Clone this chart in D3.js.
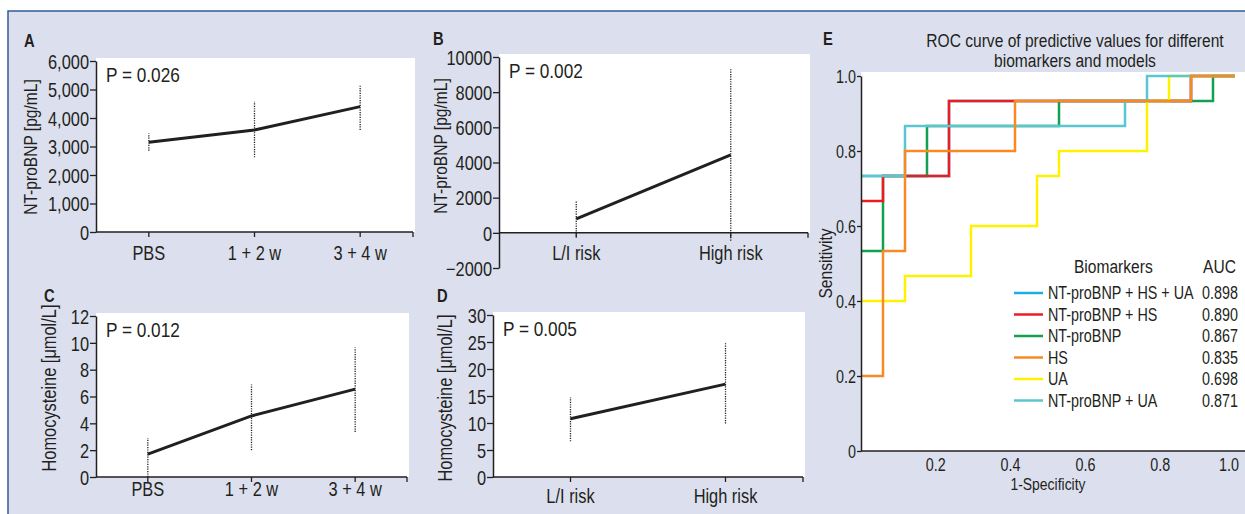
<!DOCTYPE html>
<html>
<head>
<meta charset="utf-8">
<script src="https://cdn.jsdelivr.net/npm/d3@7"></script>
<style>
    body { margin: 0; background: #fff; }
    svg { display: block; font-family: 'Liberation Sans', Arial, sans-serif; }
    text { fill: #231f20; }
</style>
</head>
<body>
<svg id="chart" width="1245" height="514"></svg>
<script>
// categories
var timeCats = ['PBS', '1 + 2 w', '3 + 4 w'],
    riskCats = ['L/I risk', 'High risk'];

// A: NT-proBNP by treatment time
var bnpTimeMean = [3150, 3580, 4400],
    bnpTimeLow = [2850, 2620, 3580],
    bnpTimeHigh = [3460, 4570, 5130],
    bnpTimeTicks = [0, 1000, 2000, 3000, 4000, 5000, 6000];

// B: NT-proBNP by risk
var bnpRiskMean = [800, 4430],
    bnpRiskLow = [-200, -450],
    bnpRiskHigh = [1780, 9300],
    bnpRiskTicks = [-2000, 0, 2000, 4000, 6000, 8000, 10000];

// C: homocysteine by treatment time
var hcyTimeMean = [1.7, 4.55, 6.55],
    hcyTimeLow = [0, 2.0, 3.35],
    hcyTimeHigh = [2.9, 6.9, 9.65],
    hcyTimeTicks = [0, 2, 4, 6, 8, 10, 12];

// D: homocysteine by risk
var hcyRiskMean = [10.8, 17.2],
    hcyRiskLow = [6.6, 9.9],
    hcyRiskHigh = [14.7, 24.8],
    hcyRiskTicks = [0, 5, 10, 15, 20, 25, 30];

// E: ROC curves, corner points as [false positives, true positives] (17 negatives, 15 positives)
var rocNeg = 17,
    rocPos = 15,
    rocNames = ['NT-proBNP + HS + UA', 'NT-proBNP + HS', 'NT-proBNP', 'HS', 'UA', 'NT-proBNP + UA'],
    rocAuc = ['0.898', '0.890', '0.867', '0.835', '0.698', '0.871'],
    rocPoints = [
        [[0, 11], [4, 14], [15, 15], [17, 15]],
        [[0, 10], [1, 11], [4, 14], [15, 15], [17, 15]],
        [[0, 8], [1, 11], [3, 13], [9, 14], [16, 15], [17, 15]],
        [[0, 3], [1, 8], [2, 12], [7, 14], [15, 15], [17, 15]],
        [[0, 6], [2, 7], [5, 9], [8, 11], [9, 12], [13, 14], [14, 15], [17, 15]],
        [[0, 11], [2, 13], [12, 14], [13, 15], [17, 15]]
    ],
    rocTicks = [0, 0.2, 0.4, 0.6, 0.8, 1.0];

var rocColors = ['#1cace6', '#ec1c24', '#12a150', '#f68a27', '#fff200', '#5cc6d0'],
    rocDrawOrder = [0, 2, 1, 4, 5, 3],
    ink = '#231f20';

var svg = d3.select('#chart');

// frame
svg.append('rect')
    .attr('x', 8).attr('y', 11)
    .attr('width', 1245).attr('height', 514)
    .attr('fill', '#dce0ee')
    .attr('stroke', '#2f5c99')
    .attr('stroke-width', 1.5);

var drawPanel = function drawPanel(opt) {
    var x = d3.scaleBand().domain(opt.cats).range(opt.xr),
        y = d3.scaleLinear().domain(opt.yd).range(opt.yr),
        g = svg.append('g'),
        top = y(opt.yd[1]),
        base = y(0),
        mid = function (d) { return x(d) + x.bandwidth() / 2; };

    g.append('rect')
        .attr('x', opt.xr[0])
        .attr('y', top - 3)
        .attr('width', opt.xr[1] - opt.xr[0] + 2)
        .attr('height', base - top + 3)
        .attr('fill', '#fff');

    var ay = g.append('g')
        .attr('transform', 'translate(' + opt.xr[0] + ',0)')
        .call(d3.axisLeft(y)
            .tickValues(opt.ticks)
            .tickFormat(opt.fmt)
            .tickSize(6)
            .tickSizeOuter(0)
            .tickPadding(1));
    ay.select('.domain').attr('stroke', ink).attr('stroke-width', 1.5);
    ay.selectAll('.tick line').attr('stroke', ink).attr('stroke-width', 1.3);
    ay.selectAll('.tick text')
        .attr('font-size', opt.tickSize)
        .attr('fill', ink)
        .attr('dy', '0.36em');
    ay.attr('font-family', null).attr('font-size', null);

    // x axis
    g.append('line')
        .attr('x1', opt.xr[0]).attr('x2', opt.xr[1])
        .attr('y1', base).attr('y2', base)
        .attr('stroke', ink).attr('stroke-width', 1.5);
    g.selectAll('.xtick')
        .data(opt.cats.map(mid).concat([opt.xr[1]]))
        .enter().append('line')
        .attr('x1', function (d) { return d; })
        .attr('x2', function (d) { return d; })
        .attr('y1', base).attr('y2', base + 5)
        .attr('stroke', ink).attr('stroke-width', 1.3);
    g.selectAll('.xlab')
        .data(opt.cats)
        .enter().append('text')
        .attr('x', mid)
        .attr('y', base + opt.labGap)
        .attr('text-anchor', 'middle')
        .attr('font-size', opt.catSize)
        .text(function (d) { return d; });

    // error bars
    g.selectAll('.err')
        .data(opt.cats)
        .enter().append('line')
        .attr('x1', mid).attr('x2', mid)
        .attr('y1', function (d, i) { return y(opt.low[i]); })
        .attr('y2', function (d, i) { return y(opt.high[i]); })
        .attr('stroke', ink)
        .attr('stroke-width', 1.3)
        .attr('stroke-dasharray', '1.2,1.2');

    g.append('path')
        .datum(opt.mean)
        .attr('d', d3.line()
            .x(function (d, i) { return mid(opt.cats[i]); })
            .y(function (d) { return y(d); }))
        .attr('fill', 'none')
        .attr('stroke', ink)
        .attr('stroke-width', 3);

    g.append('text')
        .attr('x', opt.xr[0] + 10)
        .attr('y', top + 21)
        .attr('font-size', 21)
        .text(opt.p);

    g.append('text')
        .attr('x', opt.letter[0]).attr('y', opt.letter[1])
        .attr('font-size', 18)
        .attr('font-weight', 'bold')
        .text(opt.name);

    g.append('text')
        .attr('transform', 'translate(' + opt.title[0] + ',' + opt.title[1] + ') rotate(-90)')
        .attr('text-anchor', 'middle')
        .attr('font-size', opt.titleSize)
        .text(opt.ytitle);
};

var fmtComma = d3.format(','),
    fmtPlain = function (d) { return d < 0 ? '\u2212' + Math.abs(d) : String(d); };

drawPanel({
    name: 'A', cats: timeCats, mean: bnpTimeMean, low: bnpTimeLow, high: bnpTimeHigh,
    xr: [96, 413], yd: [0, 6000], yr: [232, 61], ticks: bnpTimeTicks, fmt: fmtComma,
    tickSize: 20, catSize: 20, labGap: 28, p: 'P = 0.026',
    letter: [24, 47], title: [37, 147], titleSize: 19, ytitle: 'NT-proBNP [pg/mL]'
});

drawPanel({
    name: 'B', cats: riskCats, mean: bnpRiskMean, low: bnpRiskLow, high: bnpRiskHigh,
    xr: [499, 808], yd: [-2000, 10000], yr: [268, 57], ticks: bnpRiskTicks, fmt: fmtPlain,
    tickSize: 20, catSize: 20, labGap: 27, p: 'P = 0.002',
    letter: [433, 45], title: [447, 146], titleSize: 19, ytitle: 'NT-proBNP [pg/mL]'
});

drawPanel({
    name: 'C', cats: timeCats, mean: hcyTimeMean, low: hcyTimeLow, high: hcyTimeHigh,
    xr: [96, 407], yd: [0, 12], yr: [477, 316], ticks: hcyTimeTicks, fmt: String,
    tickSize: 20, catSize: 20, labGap: 19, p: 'P = 0.012',
    letter: [44, 302], title: [56, 388], titleSize: 20, ytitle: 'Homocysteine [\u03bcmol/L]'
});

drawPanel({
    name: 'D', cats: riskCats, mean: hcyRiskMean, low: hcyRiskLow, high: hcyRiskHigh,
    xr: [493, 803], yd: [0, 30], yr: [477, 315], ticks: hcyRiskTicks, fmt: String,
    tickSize: 20, catSize: 20, labGap: 26, p: 'P = 0.005',
    letter: [437, 302], title: [452, 398], titleSize: 20, ytitle: 'Homocysteine [\u03bcmol/L]'
});

// E: ROC
var rx = d3.scaleLinear().domain([0, 1]).range([861, 1235]),
    ry = d3.scaleLinear().domain([0, 1]).range([451, 76]),
    roc = svg.append('g');

roc.append('rect')
    .attr('x', rx(0)).attr('y', ry(1) - 4)
    .attr('width', 1245 - rx(0)).attr('height', ry(0) - ry(1) + 4)
    .attr('fill', '#fff');

var rocLine = d3.line()
    .x(function (d) { return rx(d[0] / rocNeg); })
    .y(function (d) { return ry(d[1] / rocPos); })
    .curve(d3.curveStepAfter);

roc.selectAll('.curve')
    .data(rocDrawOrder)
    .enter().append('path')
    .attr('d', function (k) { return rocLine(rocPoints[k]); })
    .attr('fill', 'none')
    .attr('stroke', function (k) { return rocColors[k]; })
    .attr('stroke-width', 2.5);

var ray = roc.append('g')
    .attr('transform', 'translate(' + rx(0) + ',0)')
    .call(d3.axisLeft(ry)
        .tickValues(rocTicks)
        .tickFormat(function (d) { return d === 0 ? '0' : d3.format('.1f')(d); })
        .tickSize(4)
        .tickSizeOuter(0)
        .tickPadding(1));
ray.attr('font-family', null).attr('font-size', null);
ray.select('.domain').attr('stroke', ink).attr('stroke-width', 1.5);
ray.selectAll('.tick line').attr('stroke', ink).attr('stroke-width', 1.3);
ray.selectAll('.tick text')
    .attr('font-size', 17.5).attr('fill', ink).attr('dy', '0.36em');

roc.append('line')
    .attr('x1', rx(0)).attr('x2', 1245)
    .attr('y1', ry(0)).attr('y2', ry(0))
    .attr('stroke', ink).attr('stroke-width', 1.5);

roc.selectAll('.xlab')
    .data(rocTicks.slice(1))
    .enter().append('text')
    .attr('x', function (d) { return Math.min(rx(d), 1229); })
    .attr('y', ry(0) + 20)
    .attr('text-anchor', 'middle')
    .attr('font-size', 17.5)
    .text(d3.format('.1f'));

roc.append('text')
    .attr('x', 1048).attr('y', 490)
    .attr('text-anchor', 'middle')
    .attr('font-size', 17)
    .text('1-Specificity');

roc.append('text')
    .attr('transform', 'translate(832,' + ry(0.5) + ') rotate(-90)')
    .attr('text-anchor', 'middle')
    .attr('font-size', 19)
    .text('Sensitivity');

roc.append('text')
    .attr('x', 823).attr('y', 45)
    .attr('font-size', 18)
    .attr('font-weight', 'bold')
    .text('E');

roc.selectAll('.title')
    .data(['ROC curve of predictive values for different', 'biomarkers and models'])
    .enter().append('text')
    .attr('x', 1075)
    .attr('y', function (d, i) { return 47 + i * 20; })
    .attr('text-anchor', 'middle')
    .attr('font-size', 19)
    .text(function (d) { return d; });

// legend
var leg = roc.append('g');
leg.append('text').attr('x', 1074).attr('y', 273).attr('font-size', 19).text('Biomarkers');
leg.append('text').attr('x', 1236).attr('y', 273).attr('font-size', 19).attr('text-anchor', 'end').text('AUC');

var rows = leg.selectAll('.row')
    .data(rocNames)
    .enter().append('g')
    .attr('transform', function (d, i) { return 'translate(0,' + (293 + i * 21.5) + ')'; });
rows.append('line')
    .attr('x1', 1014).attr('x2', 1043)
    .attr('stroke', function (d, i) { return rocColors[i]; })
    .attr('stroke-width', 2.5);
rows.append('text')
    .attr('x', 1048).attr('dy', '0.36em')
    .attr('font-size', 17.5)
    .text(function (d) { return d; });
rows.append('text')
    .attr('x', 1238).attr('dy', '0.36em')
    .attr('font-size', 17.5)
    .attr('text-anchor', 'end')
    .text(function (d, i) { return rocAuc[i]; });

// the figure uses a condensed face: squeeze every label horizontally around its anchor
svg.selectAll('text').each(function () {
    var t = d3.select(this),
        ax = +t.attr('x') || 0,
        ay = +t.attr('y') || 0,
        prior = t.attr('transform') || '';
    t.attr('transform', prior + ' translate(' + ax + ',' + ay + ') scale(0.82,1) translate(' + (-ax) + ',' + (-ay) + ')');
});
</script>
</body>
</html>
